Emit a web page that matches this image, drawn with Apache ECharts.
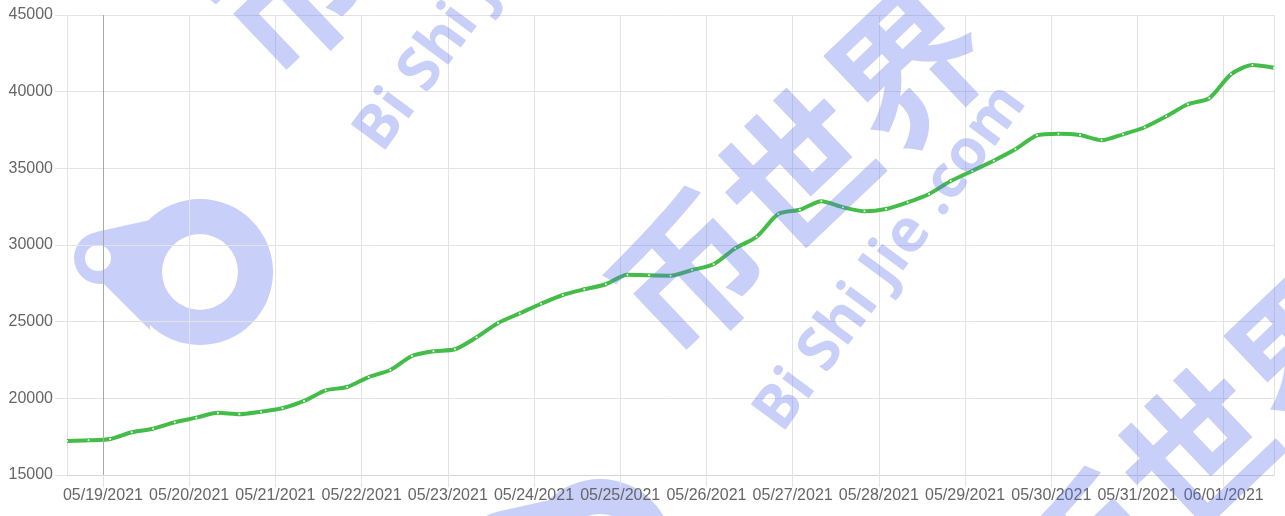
<!DOCTYPE html>
<html>
<head>
<meta charset="utf-8">
<script src="https://cdn.jsdelivr.net/npm/echarts@6/dist/echarts.min.js"></script>
<style>
html,body{margin:0;padding:0;background:#fff;}
#chart{width:1285px;height:516px;}
</style>
</head>
<body>
<div id="chart"></div>
<script>
// Series: one point every 6 hours, from 05/18/2021 14:00 to 06/01/2021 14:00
const startTime = '2021-05-18T14:00:00';
const stepHours = 6;
const values = [
  17220, 17260, 17350, 17790, 18020, 18440, 18740, 19060, 18960, 19130,
  19350, 19830, 20520, 20740, 21390, 21850, 22760, 23070, 23200, 23980,
  24910, 25540, 26170, 26740, 27110, 27440, 28060, 28020, 28000, 28370,
  28740, 29780, 30540, 32020, 32300, 32850, 32460, 32200, 32350, 32780,
  33330, 34170, 34830, 35500, 36240, 37150, 37260, 37170, 36830, 37220,
  37680, 38390, 39180, 39570, 41130, 41740, 41560
];
const yTicks = [15000, 20000, 25000, 30000, 35000, 40000, 45000];
const highlightDay = '2021-05-19T00:00:00';
const watermarkBrand = '币世界';
const watermarkSite = 'Bi Shi Jie .com';

const t0 = new Date(startTime).getTime();
const times = values.map((v, i) => t0 + i * stepHours * 3600000);
const seriesData = values.map((v, i) => [times[i], v]);

function pad(n){ return (n < 10 ? '0' : '') + n; }

// watermark tiles (repeat along a diagonal)
const wmFill = 'rgba(91,112,233,0.335)';
const wmSolid = '#c8cff8';
const tileOffsets = [[-400, -280], [0, 0], [400, 280], [800, 560]];
const graphics = [];
tileOffsets.forEach(function (o) {
  const dx = o[0], dy = o[1];
  // logo (behind the grid)
  graphics.push({type: 'ring', z: -10, shape: {cx: 200 + dx, cy: 272 + dy, r: 73, r0: 38}, style: {fill: wmSolid}});
  graphics.push({type: 'circle', z: -11, shape: {cx: 100 + dx, cy: 258 + dy, r: 26}, style: {fill: wmSolid}});
  graphics.push({type: 'polygon', z: -11, shape: {points: [[96 + dx, 232 + dy], [150 + dx, 220 + dy], [150 + dx, 330 + dy], [104 + dx, 284 + dy]]}, style: {fill: wmSolid}});
  graphics.push({type: 'circle', z: -9, shape: {cx: 98 + dx, cy: 258 + dy, r: 13}, style: {fill: '#ffffff'}});
  // site text
  graphics.push({type: 'text', z: 100, x: 491 + dx, y: -22 + dy, rotation: 0.934,
    style: {text: watermarkSite, fill: wmFill, font: 'bold 60px "Noto Sans", sans-serif', textAlign: 'center', textVerticalAlign: 'middle'}});
  // brand text
  graphics.push({type: 'text', z: 100, x: 398 + dx, y: -110 + dy, rotation: 0.76,
    style: {text: watermarkBrand, fill: wmFill, font: 'bold 150px "Noto Sans CJK SC", sans-serif', textAlign: 'center', textVerticalAlign: 'middle'}});
});

const chart = echarts.init(document.getElementById('chart'), null, {renderer: 'canvas'});
const gridColor = '#e3e3e3';
const font = 'Arial, "Liberation Sans", sans-serif';

chart.setOption({
  animation: false,
  backgroundColor: '#ffffff',
  grid: {left: 67, right: 11, top: 15, bottom: 41, containLabel: false},
  graphic: {elements: graphics},
  xAxis: {
    type: 'time',
    min: times[0],
    max: times[times.length - 1],
    minInterval: 86400000,
    maxInterval: 86400000,
    splitNumber: 14,
    axisLine: {show: true, lineStyle: {color: '#d6d6d6', width: 1}},
    axisTick: {show: true, length: 12, lineStyle: {color: gridColor}},
    splitLine: {show: true, lineStyle: {color: gridColor, width: 1}},
    axisLabel: {
      color: '#666666', fontSize: 16, fontFamily: font, margin: 13,
      showMinLabel: false, showMaxLabel: false, hideOverlap: false,
      formatter: function (val) {
        const d = new Date(val);
        return pad(d.getMonth() + 1) + '/' + pad(d.getDate()) + '/' + d.getFullYear();
      }
    }
  },
  yAxis: {
    type: 'value',
    min: yTicks[0],
    max: yTicks[yTicks.length - 1],
    interval: 5000,
    axisLine: {show: true, lineStyle: {color: gridColor}},
    axisTick: {show: true, length: 12, lineStyle: {color: gridColor}},
    splitLine: {show: true, lineStyle: {color: gridColor, width: 1}},
    axisLabel: {color: '#666666', fontSize: 16, fontFamily: font, margin: 14,
      formatter: function (v) { return String(v); }}
  },
  series: [{
    type: 'line',
    data: seriesData,
    smooth: 0.25,
    showSymbol: true,
    symbol: 'circle',
    symbolSize: 2,
    itemStyle: {color: '#ffffff', borderWidth: 0},
    lineStyle: {color: '#43bd47', width: 4},
    emphasis: {disabled: true},
    markLine: {
      silent: true,
      symbol: ['none', 'none'],
      label: {show: false},
      lineStyle: {color: '#a9a9a9', width: 1, type: 'solid'},
      data: [{xAxis: new Date(highlightDay).getTime()}]
    }
  }]
});
</script>
</body>
</html>
